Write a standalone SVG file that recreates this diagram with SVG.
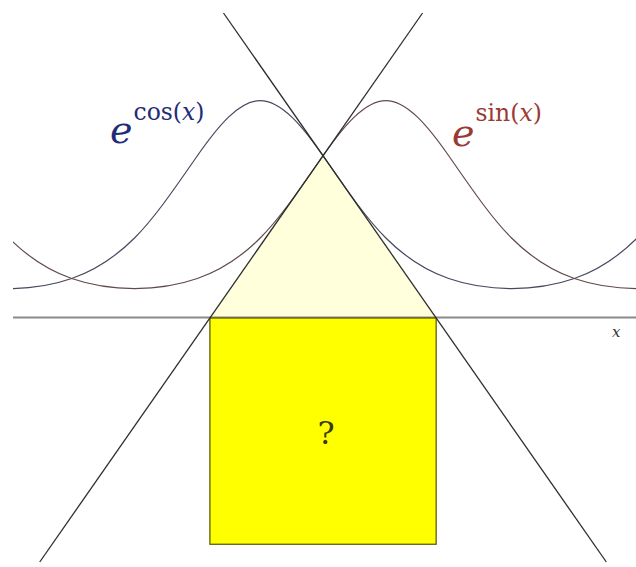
<svg xmlns="http://www.w3.org/2000/svg" xmlns:xlink="http://www.w3.org/1999/xlink" width="636" height="567" viewBox="0 0 636 567">
<style>
.curve{fill:none;stroke-width:1.2}
.tan{stroke:#2e2e2e;stroke-width:1.3;fill:none}
.base{font-size:38px;font-style:italic}
.sup{font-size:23.5px;font-style:normal}
.it{font-style:italic}
</style>
<defs>
<clipPath id="plot"><rect x="13" y="0" width="623" height="567"/></clipPath>
<path id="ecos" d="M -116.79 238 C -95.85 258.94 -74.90 271.25 -53.96 278.55 C -33.02 285.85 -12.07 288.57 8.87 288.57 C 29.81 288.57 50.76 285.85 71.70 278.55 C 92.64 271.25 113.60 258.94 134.54 238 C 155.48 217.06 176.43 185.79 197.37 155.75 C 218.31 125.71 239.26 100.54 260.20 100.54 C 281.14 100.54 302.09 125.71 323.03 155.75 C 343.97 185.79 364.92 217.06 385.86 238 C 406.80 258.94 427.76 271.25 448.70 278.55 C 469.64 285.85 490.59 288.57 511.53 288.57 C 532.47 288.57 553.42 285.85 574.36 278.55 C 595.30 271.25 616.25 258.94 637.19 238"/>
</defs>
<rect width="636" height="567" fill="#ffffff"/>
<polygon id="triangle" points="209.9,318 436.16,318 323.03,155.75" fill="#ffffdc"/>
<line id="x-axis" x1="13" y1="317.5" x2="636" y2="317.5" stroke="#8a8a8a" stroke-width="2"/>
<rect id="square" x="209.9" y="318" width="226.26" height="226.26" fill="#ffff00" stroke="#5e5e10" stroke-width="1.3"/>
<g id="curves" clip-path="url(#plot)">
<use xlink:href="#ecos" class="curve" stroke="#47495e"/>
<use xlink:href="#ecos" class="curve" stroke="#634a4a" transform="translate(125.66 0)"/>
</g>
<g id="connectors">
<line class="tan" x1="223.49" y1="13" x2="606.31" y2="562"/>
<line class="tan" x1="422.57" y1="13" x2="39.75" y2="562"/>
</g>
<g id="labels" font-family="DejaVu Serif, serif">
<text id="label-cos" x="110" y="143" fill="#1f2c78"><tspan class="base">e</tspan><tspan class="sup" dx="1" dy="-23">cos(</tspan><tspan class="sup it">x</tspan><tspan class="sup">)</tspan></text>
<text id="label-sin" x="452" y="146" fill="#9a3a34"><tspan class="base">e</tspan><tspan class="sup" dx="1" dy="-25">sin(</tspan><tspan class="sup it">x</tspan><tspan class="sup">)</tspan></text>
<text x="612" y="337" font-size="15" font-style="italic" fill="#333333">x</text>
<text x="326" y="444" font-size="32" fill="#3a3a10" text-anchor="middle">?</text>
</g>
</svg>
